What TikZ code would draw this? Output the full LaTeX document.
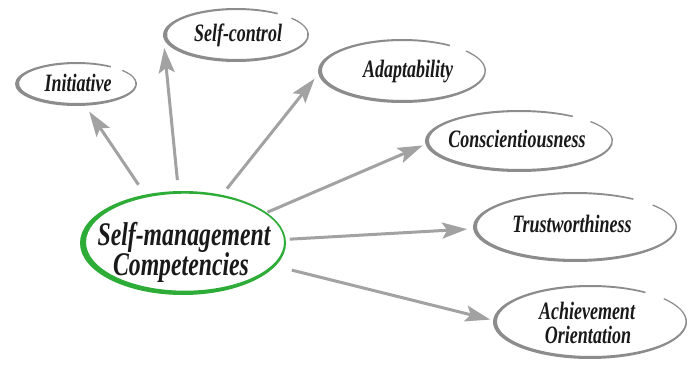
\documentclass[tikz,border=0pt]{standalone}
\usepackage{fontspec}
\usetikzlibrary{arrows.meta,calc,shapes.geometric}
\newfontfamily\lblfont[FakeStretch=0.72]{Liberation Serif}
\definecolor{brushgreen}{RGB}{45,172,55}
\definecolor{brushgray}{RGB}{140,140,140}
\definecolor{arrowgray}{RGB}{162,162,162}
\definecolor{txt}{RGB}{25,25,25}
\newcommand\brushell[5]{% #1 node, #2 a, #3 b, #4 colour, #5 thickness scale
  \pgfmathsetmacro\ia{#2-2.75*#5}\pgfmathsetmacro\ib{#3-2.5*#5}%
  \pgfmathsetmacro\dx{1.25*#5}\pgfmathsetmacro\dy{0.5*#5}%
  \fill[#4] ($(#1.center)+(55:#2pt and #3pt)$)
    arc[start angle=55,end angle=400,x radius=#2pt,y radius=#3pt]
    -- ($(#1.center)+(\dx pt,\dy pt)+(400:\ia pt and \ib pt)$)
    arc[start angle=400,end angle=55,x radius=\ia pt,y radius=\ib pt] -- cycle;}
\tikzset{
  holder/.style={shape=ellipse,inner sep=0pt,outer sep=0pt},
  lbl/.style={font=\lblfont\fontsize{25}{30}\selectfont\bfseries\itshape,text=txt,inner sep=0pt,anchor=base},
  biglbl/.style={font=\lblfont\fontsize{33}{38}\selectfont\bfseries\itshape,text=txt,inner sep=0pt,anchor=base},
  arr/.style={draw=arrowgray,line width=3pt,-{Stealth[length=25pt,width=16pt,inset=5pt]}}
}
\begin{document}
\begin{tikzpicture}[x=1pt,y=1pt]
\fill[white] (0,0) rectangle (689,365);
\useasboundingbox (0,0) rectangle (689,365);
% holders
\node[holder,minimum width=206pt,minimum height=104pt] (c) at (183,122) {};
\node[holder,minimum width=122pt,minimum height=44pt] (ini) at (76,281) {};
\node[holder,minimum width=146pt,minimum height=54pt] (sc) at (236,330) {};
\node[holder,minimum width=168pt,minimum height=64pt] (ad) at (402,294) {};
\node[holder,minimum width=188pt,minimum height=62pt] (co) at (519,224) {};
\node[holder,minimum width=204pt,minimum height=70pt] (tr) at (575,138) {};
\node[holder,minimum width=194pt,minimum height=74pt] (ac) at (590,43) {};
% brush outlines
\fill[brushgreen,even odd rule] (c.center) ellipse[x radius=103pt,y radius=52pt]
  ($(c.center)+(2pt,0.8pt)$) ellipse[x radius=99pt,y radius=48.5pt];
\brushell{ini}{61}{22}{brushgray}{1}
\brushell{sc}{73}{27}{brushgray}{1}
\brushell{ad}{84}{32}{brushgray}{1}
\brushell{co}{94}{31}{brushgray}{1}
\brushell{tr}{102}{35}{brushgray}{1}
\brushell{ac}{97}{37}{brushgray}{1}
% texts
\node[biglbl] (c1) at (184,120) {Self-management};
\node[biglbl] (c2) at (181,90) {Competencies};
\node[lbl] (t1) at (78,273) {Initiative};
\node[lbl] (t2) at (238,323) {Self-control};
\node[lbl] (t3) at (408,287) {Adaptability};
\node[lbl] (t4) at (517,218) {Conscientiousness};
\node[lbl] (t5) at (572,133) {Trustworthiness};
\node[lbl] (t6) at (587,46) {Achievement};
\node[lbl] (t7) at (588,22) {Orientation};
% arrows
\draw[arr,shorten <=12pt,shorten >=7pt] (c.128) -- (ini.-67);
\draw[arr,shorten <=11pt,shorten >=13pt] (c.95) -- (sc.180);
\draw[arr,shorten <=8pt,shorten >=6pt] (c.51) -- (ad.182);
\draw[arr,shorten <=1pt,shorten >=3pt] (c.20) -- (co.182);
\draw[arr,shorten <=4pt,shorten >=6pt] (c.2) -- (tr.181);
\draw[arr,shorten <=17pt,shorten >=3pt] (c.-14) -- (ac.179);
\end{tikzpicture}
\end{document}
